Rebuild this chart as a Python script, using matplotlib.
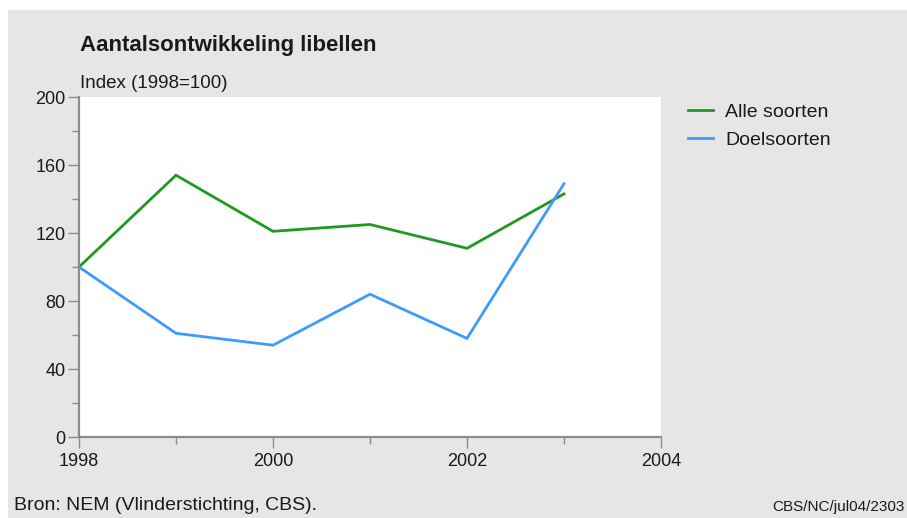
import matplotlib
matplotlib.use("Agg")
import matplotlib.pyplot as plt
from matplotlib.patches import Rectangle
from matplotlib.ticker import MultipleLocator

plt.rcParams['font.family'] = ['Liberation Sans', 'DejaVu Sans']

years = [1998, 1999, 2000, 2001, 2002, 2003]
alle_soorten = [100, 154, 121, 125, 111, 143]
doelsoorten = [100, 61, 54, 84, 58, 149]
x_ticks = [1998, 2000, 2002, 2004]
y_ticks = [0, 40, 80, 120, 160, 200]

W, H = 907, 518
fig = plt.figure(figsize=(W / 100, H / 100), dpi=100, facecolor='white')

bg = '#e6e6e6'
fig.patches.append(Rectangle((8 / W, 0), 1 - 8 / W, 1 - 10 / H,
                             transform=fig.transFigure, facecolor=bg,
                             edgecolor='none', zorder=-10))

ax = fig.add_axes([79 / W, 81 / H, (661 - 79) / W, (437 - 97) / H])
ax.set_facecolor('white')

green = '#1e9a1e'
blue = '#3d9bff'
ax.plot(years, alle_soorten, color=green, lw=2.0, label='Alle soorten',
        solid_joinstyle='miter', clip_on=False)
ax.plot(years, doelsoorten, color=blue, lw=2.0, label='Doelsoorten',
        solid_joinstyle='miter', clip_on=False)

ax.set_xlim(1998, 2004)
ax.set_ylim(0, 200)
ax.set_xticks(x_ticks)
ax.set_xticklabels([str(v) for v in x_ticks])
ax.xaxis.set_minor_locator(MultipleLocator(1))
ax.set_yticks(y_ticks)
ax.yaxis.set_minor_locator(MultipleLocator(20))

axis_col = '#8c8c8c'
for s in ['top', 'right']:
    ax.spines[s].set_visible(False)
for s in ['left', 'bottom']:
    ax.spines[s].set_color(axis_col)
    ax.spines[s].set_linewidth(1.6)

ax.tick_params(axis='both', which='major', length=8, width=1, color=axis_col,
               labelsize=13, labelcolor='#1a1a1a')
ax.tick_params(axis='x', which='major', pad=3.5)
ax.tick_params(axis='y', which='major', pad=1.5)
ax.tick_params(axis='both', which='minor', length=5, width=1, color=axis_col)

fig.text(80 / W, 1 - 46 / H, 'Aantalsontwikkeling libellen', fontsize=16,
         fontweight='bold', color='#1a1a1a', ha='left', va='center')
fig.text(80 / W, 1 - 83 / H, 'Index (1998=100)', fontsize=13.5,
         color='#1a1a1a', ha='left', va='center')
fig.text(14 / W, 1 - 505 / H, 'Bron: NEM (Vlinderstichting, CBS).', fontsize=14,
         color='#1a1a1a', ha='left', va='center')
fig.text(772 / W, 1 - 507 / H, 'CBS/NC/jul04/2303', fontsize=11,
         color='#1a1a1a', ha='left', va='center')

leg = ax.legend(loc='upper left', bbox_to_anchor=(688 / W, 1 - 103 / H),
                bbox_transform=fig.transFigure, frameon=False, fontsize=14,
                handlelength=1.29, handletextpad=0.62, labelspacing=0.54,
                borderaxespad=0, borderpad=0)
for t in leg.get_texts():
    t.set_color('#1a1a1a')

fig.savefig('out.png', dpi=100, facecolor='white')
